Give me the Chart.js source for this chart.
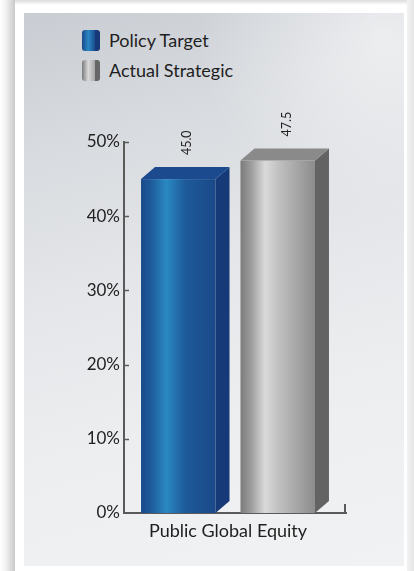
<!DOCTYPE html>
<html>
<head>
<meta charset="utf-8">
<script src="https://cdn.jsdelivr.net/npm/chart.js@4"></script>
<style>
  html, body { margin: 0; padding: 0; background: #ffffff; }
  #wrap { position: relative; width: 414px; height: 571px; overflow: hidden; background: #ffffff; }
  #shadowL { position: absolute; left: 0; top: 0; width: 15px; height: 571px;
    background: linear-gradient(90deg, #ffffff 0%, #f0f0f0 40%, #c9c9c9 100%); }
  #shadowT { position: absolute; left: 15px; top: 0; width: 399px; height: 5px;
    background: linear-gradient(180deg, #dcdcdc 0%, #ffffff 100%); }
  #shadowR { position: absolute; left: 407px; top: 0; width: 7px; height: 571px;
    background: linear-gradient(90deg, #f2f2f2 0%, #e6e6e6 100%); }
  #panel { position: absolute; left: 24px; top: 13px; width: 380px; height: 553px;
    background:
      radial-gradient(ellipse 70% 45% at 95% 5%, rgba(255,255,255,0.55), rgba(255,255,255,0) 70%),
      linear-gradient(165deg, #c9cdd3 0%, #d8dbdf 22%, #e4e6e9 45%, #eceef0 70%, #f1f2f3 100%); }
  #legend { position: absolute; left: 82px; top: 25px; font-family: Lato, "Open Sans", sans-serif;
    font-size: 18px; color: #1e1e1e; }
  .item { display: flex; align-items: center; height: 30px; }
  .icon { width: 18px; height: 21px; border-radius: 3px; margin-right: 9px; }
  canvas { position: absolute; left: 0; top: 0; }
</style>
</head>
<body>
<div id="wrap">
  <div id="shadowL"></div>
  <div id="shadowT"></div>
  <div id="shadowR"></div>
  <div id="panel"></div>
  <div id="legend"></div>
  <canvas id="c" width="414" height="571"></canvas>
</div>
<script>
// ---- data ----
const categories = ['Public Global Equity'];
const seriesNames = ['Policy Target', 'Actual Strategic'];
const policyTarget = [45.0];
const actualStrategic = [47.5];
const yTickValues = [0, 10, 20, 30, 40, 50];

// ---- styles ----
const palettes = [
  { stops: [[0, '#1a4a8a'], [0.12, '#1d5898'], [0.34, '#2a88c2'], [0.6, '#1d5a99'], [1, '#1b4888']],
    side: '#153a77', top: '#1b4b8e', icon: 'linear-gradient(90deg,#1a4a8a 0%,#2a88c2 35%,#1c5194 70%,#153a77 72%,#153a77 100%)' },
  { stops: [[0, '#7b7b7b'], [0.14, '#9c9c9c'], [0.33, '#dadada'], [0.5, '#c2c2c2'], [1, '#8c8c8c']],
    side: '#636363', top: '#8a8a8a', icon: 'linear-gradient(90deg,#7b7b7b 0%,#dadada 35%,#a8a8a8 70%,#666 72%,#666 100%)' }
];
const DX = 14, DY = 12;
const FONT = 'Lato, "Open Sans", sans-serif';

// legend (HTML)
const legendEl = document.getElementById('legend');
seriesNames.forEach((n, i) => {
  const it = document.createElement('div'); it.className = 'item';
  const ic = document.createElement('div'); ic.className = 'icon'; ic.style.background = palettes[i].icon;
  const tx = document.createElement('span'); tx.textContent = n;
  it.appendChild(ic); it.appendChild(tx); legendEl.appendChild(it);
});

const bars3d = {
  id: 'bars3d',
  afterDatasetsDraw(chart) {
    const ctx = chart.ctx;
    chart.data.datasets.forEach((ds, di) => {
      const meta = chart.getDatasetMeta(di);
      const pal = palettes[di];
      meta.data.forEach((el, idx) => {
        const w = el.width;
        const x0 = el.x - w / 2 - DX / 2, x1 = x0 + w;
        const yt = el.y, yb = el.base;
        ctx.save();
        // front
        const g = ctx.createLinearGradient(x0, 0, x1, 0);
        pal.stops.forEach(s => g.addColorStop(s[0], s[1]));
        ctx.fillStyle = g;
        ctx.fillRect(x0, yt, w, yb - yt);
        // side
        ctx.fillStyle = pal.side;
        ctx.beginPath();
        ctx.moveTo(x1, yt); ctx.lineTo(x1 + DX, yt - DY); ctx.lineTo(x1 + DX, yb - DY); ctx.lineTo(x1, yb);
        ctx.closePath(); ctx.fill();
        // top
        ctx.fillStyle = pal.top;
        ctx.beginPath();
        ctx.moveTo(x0, yt); ctx.lineTo(x0 + DX, yt - DY); ctx.lineTo(x1 + DX, yt - DY); ctx.lineTo(x1, yt);
        ctx.closePath(); ctx.fill();
        // value label
        const v = ds.data[idx];
        ctx.translate(el.x + 2, yt - DY - 12);
        ctx.rotate(-Math.PI / 2);
        ctx.font = '12.5px ' + FONT;
        ctx.fillStyle = '#222222';
        ctx.textAlign = 'left';
        ctx.textBaseline = 'middle';
        ctx.fillText(v.toFixed(1), 0, 0);
        ctx.restore();
      });
    });
    // inner y tick marks and right end tick on x axis
    const ys = chart.scales.y, ca = chart.chartArea;
    ctx.save();
    ctx.strokeStyle = '#5a5a5a';
    ctx.lineWidth = 1.5;
    yTickValues.forEach(v => {
      if (v === 0) return;
      const py = Math.round(ys.getPixelForValue(v)) + 0.5;
      ctx.beginPath(); ctx.moveTo(ca.left, py); ctx.lineTo(ca.left + 5, py); ctx.stroke();
    });
    ctx.lineWidth = 2;
    ctx.beginPath(); ctx.moveTo(ca.right - 1, ca.bottom); ctx.lineTo(ca.right - 1, ca.bottom - 9); ctx.stroke();
    ctx.restore();
  }
};

new Chart(document.getElementById('c'), {
  type: 'bar',
  data: {
    labels: categories,
    datasets: [
      { label: seriesNames[0], data: policyTarget, backgroundColor: 'rgba(0,0,0,0)' },
      { label: seriesNames[1], data: actualStrategic, backgroundColor: 'rgba(0,0,0,0)' }
    ]
  },
  options: {
    responsive: false,
    animation: false,
    events: [],
    categoryPercentage: 0.896,
    barPercentage: 0.749,
    layout: { padding: { left: 60, right: 68, top: 142, bottom: 18 } },
    plugins: { legend: { display: false }, tooltip: { enabled: false } },
    scales: {
      x: {
        grid: { display: false, drawTicks: false },
        border: { display: true, color: '#5a5a5a', width: 2 },
        ticks: { color: '#1e1e1e', font: { family: FONT, size: 18 }, padding: 7, maxRotation: 0, labelOffset: -7 },
        afterFit(s) { s.height = 40; }
      },
      y: {
        min: 0, max: 50,
        afterBuildTicks(s) { s.ticks = yTickValues.map(v => ({ value: v })); },
        grid: { display: false, drawTicks: false },
        border: { display: true, color: '#5a5a5a', width: 2 },
        ticks: { color: '#222222', font: { family: FONT, size: 17 }, padding: 4,
          callback: v => v + '%' },
        afterFit(s) { s.width = 64; }
      }
    }
  },
  plugins: [bars3d]
});
</script>
</body>
</html>
